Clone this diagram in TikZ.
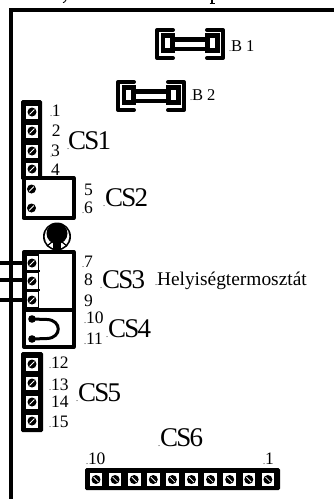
\documentclass[tikz,border=0pt]{standalone}
\usepackage{fontspec}
\setmainfont{Liberation Serif}
\newfontfamily\csfont[LetterSpace=-6.5]{Liberation Serif}
\tikzset{
  lab/.style={anchor=base west,inner sep=0pt,outer sep=0pt},
  numlab/.style={lab,font=\fontsize{17.5}{17.5}\selectfont},
  bigcs/.style={lab,font=\csfont\fontsize{27}{27}\selectfont},
  jumplab/.style={lab,font=\fontsize{16.5}{16.5}\selectfont},
  thick line/.style={line width=4pt,line join=round},
  blockfill/.style={fill=black,rounded corners=1.5pt},
  cellbox/.style={fill=white},
}
\newcommand{\screwA}[2]{\fill (#1,#2) circle (4.5);\draw[white,line width=.8pt] (#1-2.4,#2+2.4) -- (#1+2.4,#2-2.4);}
\newcommand{\screwB}[2]{\fill (#1,#2) circle (4.5);\draw[white,line width=.8pt] (#1-2.4,#2-2.4) -- (#1+2.4,#2+2.4);}
\newcommand{\cellscrew}[2]{\fill[cellbox] (#1-6,#2-6.5) rectangle (#1+6,#2+6.5);\screwA{#1}{#2}}
\newcommand{\tick}[2]{\fill (#1-1,#2-.3) circle (.5);}
\newcommand{\jumper}[4]{%
 \begin{scope}[shift={(#2,#3)}]
  \draw[thick line,line cap=round] (173,30) -- (157,30) -- (157,58) -- (173,58);
  \draw[thick line,line cap=round] (207,30) -- (223,30) -- (223,58) -- (207,58);
  \fill (160.5,33) rectangle (175,53);
  \fill (205,33) rectangle (219.5,53);
  \fill[white] (165,38) rectangle (170,48);
  \fill[white] (210,38) rectangle (215,48);
  \fill (175,37) rectangle (205,51);
  \fill[white] (175,41.5) rectangle (205,46.5);
 \end{scope}}
\begin{document}
\begin{tikzpicture}[x=1pt,y=-1pt]
\useasboundingbox (0,0) rectangle (334,499);
\begin{scope}
\clip (0,0) rectangle (334,499);
\fill[white] (0,0) rectangle (334,499);
% remnants of cut-off strokes at the top edge
\draw[line width=.9pt] (66,0) -- (64.5,2) -- (63,2.6);
\draw[line width=1.2pt] (212,0) -- (212,3.5);
\draw[line width=.8pt] (209.5,3.7) -- (214.5,3.7);
% frame
\draw[line width=4pt,line join=miter] (11,499) -- (11,10) -- (334,10);
% jumpers
\jumper{B1}{0}{0}{}
\jumper{B2}{-39}{52}{}
% CS1 block
\fill[blockfill] (21,100) rectangle (42,180);
\foreach \yy in {112,131,151,169}{\cellscrew{32}{\yy}}
% CS2 box
\draw[thick line,fill=white] (23.5,178) rectangle (73.5,218);
\screwA{31.5}{189}\screwA{31.5}{208}
% round part
\fill (57,236.5) circle (14);
\fill[white] (57,236.5) circle (12.3);
\fill (57,233.5) circle (10.5);
\fill (53,240) rectangle (61,252);
\draw[line width=1.2pt] (52,242) -- (47,246);
\draw[line width=1.2pt] (62,242) -- (67,246);
% wires
\draw[line width=4pt] (0,262.5) -- (24,262.5);
\draw[line width=4pt] (0,280) -- (24,280);
\draw[line width=4pt] (0,300) -- (24,300);
% CS3 box
\draw[thick line,fill=white] (24,252) rectangle (73.5,310);
\fill (24,252) rectangle (39,310);
\fill[cellbox] (26.5,256) rectangle (37.5,270);
\fill[cellbox] (26.5,273) rectangle (37.5,288.5);
\fill[cellbox] (26.5,292) rectangle (37.5,307);
\fill (37,270) rectangle (40,272);
\fill (37,289) rectangle (40,291);
\screwA{32}{263}\screwA{32}{281}\screwA{32}{300}
% CS4 box
\draw[thick line,fill=white] (24,310) rectangle (73.5,347);
\draw[line width=3pt] (32,319) -- (47,319.5) .. controls (62,320) and (62,338) .. (47,338.5) -- (32,339);
\fill (32,319) circle (3.8);
\fill (32,339) circle (3.8);
% CS5 block
\fill[blockfill] (21,352) rectangle (43,432);
\foreach \yy in {364,383,402,421}{\cellscrew{32}{\yy}}
% CS6 block
\fill[blockfill] (85,468) rectangle (280,490);
\foreach \i in {0,...,9}{
  \pgfmathsetmacro{\xx}{96+19.1*\i}
  \fill[cellbox] (\xx-6.3,473) rectangle (\xx+6.3,486);
  \screwB{\xx}{479.5}
}
% labels
\node[jumplab] (b1) at (231,51) {B 1};
\node[jumplab] (b2) at (192,100) {B 2};
\node[numlab] (n1) at (52,116) {1};
\node[numlab] (n2) at (52,136) {2};
\node[numlab] (n3) at (51,156.5) {3};
\node[numlab] (n4) at (51,175) {4};
\node[bigcs] (cs1) at (68,149) {CS1};
\node[numlab] (n5) at (84,195) {5};
\node[numlab] (n6) at (84,213) {6};
\node[bigcs] (cs2) at (105,206) {CS2};
\node[numlab] (n7) at (84,267) {7};
\node[numlab] (n8) at (84,285) {8};
\node[numlab] (n9) at (84,306) {9};
\node[bigcs] (cs3) at (102,288) {CS3};
\node[lab,font=\fontsize{19.4}{19.4}\selectfont] (hely) at (157,285) {Helyiségtermosztát};
\node[numlab] (n10) at (86,323) {10};
\node[numlab] (n11) at (86,344) {11};
\node[bigcs] (cs4) at (108,337) {CS4};
\node[numlab] (n12) at (51,368) {12};
\node[numlab] (n13) at (51,390) {13};
\node[numlab] (n14) at (51,407) {14};
\node[numlab] (n15) at (51,427) {15};
\node[bigcs] (cs5) at (78,401) {CS5};
\node[bigcs] (cs6) at (160,446) {CS6};
\node[numlab] (m10) at (88,464) {10};
\node[numlab] (m1) at (265,464) {1};
\foreach \a/\b in {231/51,192/100,52/116,69/149,52/156.5,105/206,84/213,84/267,102/288,157/285,86/323,86/344,108/337,51/368,51/390,51/427,78/401,160/446,88/464,265/464}{\tick{\a}{\b}}
\end{scope}
\end{tikzpicture}
\end{document}
